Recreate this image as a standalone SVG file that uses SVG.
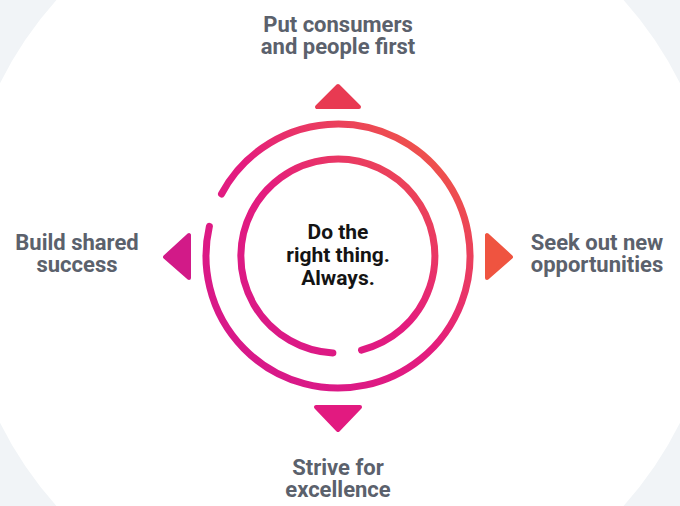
<svg xmlns="http://www.w3.org/2000/svg" width="680" height="506" viewBox="0 0 680 506">
  <defs>
    <linearGradient id="ringGrad" gradientUnits="userSpaceOnUse" x1="210" y1="390" x2="470" y2="125">
      <stop offset="0" stop-color="#d3178d"/>
      <stop offset="0.5" stop-color="#e41c7e"/>
      <stop offset="1" stop-color="#f2643a"/>
    </linearGradient>
    <style>
      .label { font-family: Roboto, "Liberation Sans", sans-serif; font-weight: 700; font-size: 22px; fill: #5b616c; text-anchor: middle; }
      .core { font-family: Roboto, "Liberation Sans", sans-serif; font-weight: 700; font-size: 21px; fill: #141414; text-anchor: middle; }
      .ring { fill: none; stroke: url(#ringGrad); stroke-width: 7; stroke-linecap: round; }
      .tri { stroke-width: 4; stroke-linejoin: round; }
    </style>
  </defs>
  <rect width="680" height="506" fill="#ffffff"/>
  <circle cx="340" cy="253" r="410" fill="none" stroke="#f1f4f7" stroke-width="60"/>

  <g id="connectors">
    <path class="ring" d="M221.5,194.0 A132,132 0 1 1 209.4,226.3"/>
    <path class="ring" d="M332.9,352.9 A97,97 0 1 1 361.5,350.1"/>
  </g>

  <g id="center">
    <text class="core" x="338" y="239">Do the<tspan x="338" dy="23">right thing.</tspan><tspan x="338" dy="23">Always.</tspan></text>
  </g>

  <g id="top">
    <polygon class="tri" points="338,86 317,107 359,107" fill="#e83a52" stroke="#e83a52"/>
    <text class="label" x="338" y="32">Put consumers<tspan x="338" dy="22">and people first</tspan></text>
  </g>

  <g id="right">
    <polygon class="tri" points="487,235 487,278 511,257" fill="#ef5440" stroke="#ef5440"/>
    <text class="label" x="597" y="250">Seek out new<tspan x="597" dy="22">opportunities</tspan></text>
  </g>

  <g id="left">
    <polygon class="tri" points="189,235 189,278 165,257" fill="#d21a88" stroke="#d21a88"/>
    <text class="label" x="77" y="250">Build shared<tspan x="77" dy="22">success</tspan></text>
  </g>

  <g id="bottom">
    <polygon class="tri" points="316,407 360,407 338,430" fill="#e21a80" stroke="#e21a80"/>
    <text class="label" x="338" y="475">Strive for<tspan x="338" dy="22">excellence</tspan></text>
  </g>
</svg>
